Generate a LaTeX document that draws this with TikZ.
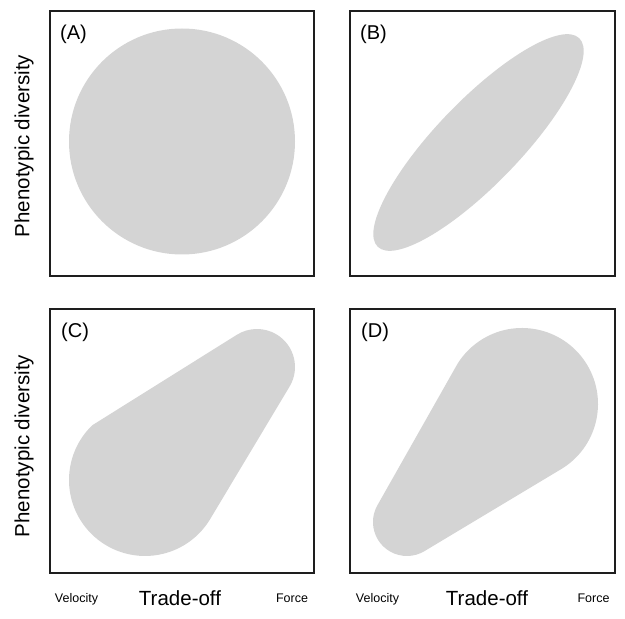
\documentclass[tikz,border=0pt]{standalone}
\usepackage{fontspec}
\setmainfont{Liberation Sans}
\usetikzlibrary{calc}
\definecolor{blobgray}{HTML}{D4D4D4}
\definecolor{framec}{HTML}{1E1E1E}
\tikzset{
  panelbox/.style={draw=framec, line width=1.9pt},
  blob/.style={fill=blobgray, draw=none},
  panellabel/.style={anchor=base west, inner sep=0pt, font=\fontsize{20}{24}\selectfont},
  axislabel/.style={anchor=base, inner sep=0pt, font=\fontsize{20.5}{24}\selectfont},
  endlabel/.style={anchor=base, inner sep=0pt, font=\fontsize{12.5}{15}\selectfont},
  ylabel/.style={rotate=90, inner sep=0pt, font=\fontsize{20.5}{24}\selectfont}
}
\begin{document}
\begin{tikzpicture}[x=1pt,y=1pt]
\useasboundingbox (0,0) rectangle (625,619);

% Panel A
\fill[blob] (182,477.5) circle[radius=113];
\draw[panelbox] (50,343) rectangle (314,608);
\node[panellabel] (labA) at (60,579) {(A)};

% Panel B
\fill[blob, rotate around={46:(478.5,476.5)}] (478.5,476.5) ellipse[x radius=145, y radius=42];
\draw[panelbox] (350,343) rectangle (615,608);
\node[panellabel] (labB) at (360,579) {(B)};

% Panel C
\coordinate (cbig) at (145,139);
\coordinate (csmall) at (257,252);
\fill[blob] ($(cbig)+(133.9:76)$) arc[start angle=133.9, end angle=329.1, radius=76]
  -- ($(csmall)+(-30.9:38)$) arc[start angle=-30.9, end angle=121.9, radius=38] -- cycle;
\draw[panelbox] (50,46) rectangle (314,310);
\node[panellabel] (labC) at (61,281) {(C)};

% Panel D
\coordinate (dbig) at (522,215);
\coordinate (dsmall) at (407,97);
\fill[blob] ($(dbig)+(148:76)$) -- ($(dsmall)+(150.5:34)$)
  arc[start angle=150.5, end angle=300.9, radius=34]
  -- ($(dbig)+(-59.1:76)$) arc[start angle=-59.1, end angle=148, radius=76] -- cycle;
\draw[panelbox] (350,46) rectangle (615,310);
\node[panellabel] (labD) at (361,281) {(D)};

% Axis labels
\node[ylabel] (yA) at (24,473) {Phenotypic diversity};
\node[ylabel] (yC) at (24,173) {Phenotypic diversity};

\node[axislabel] (xC) at (180,13) {Trade-off};
\node[axislabel] (xD) at (487,13) {Trade-off};
\node[endlabel] (vC) at (76.5,16) {Velocity};
\node[endlabel] (fC) at (292,16) {Force};
\node[endlabel] (vD) at (377.5,16) {Velocity};
\node[endlabel] (fD) at (593.5,16) {Force};
\end{tikzpicture}
\end{document}
